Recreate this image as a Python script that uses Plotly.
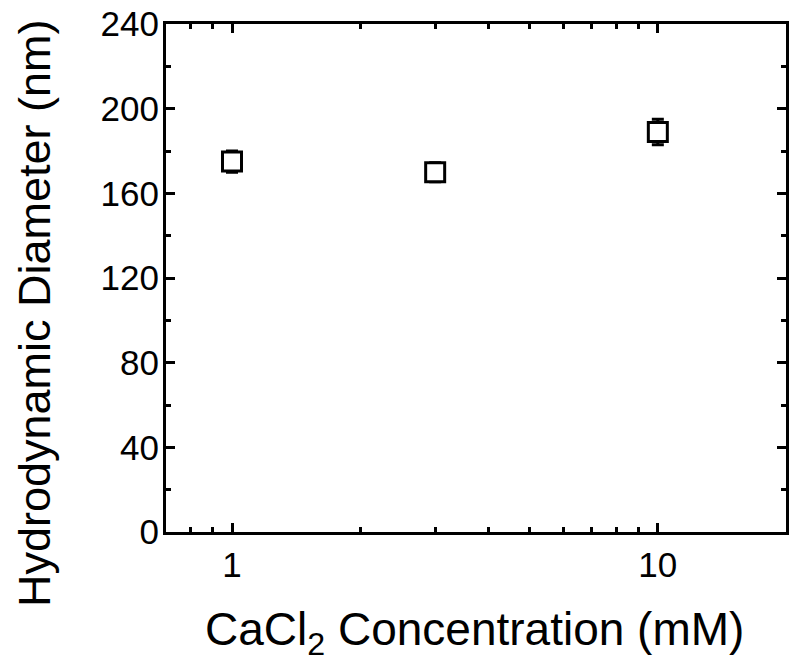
import plotly.graph_objects as go

conc = [1, 3, 10]
diameter = [175, 170, 189]
err = [5, 4.5, 6]

x_title = "CaCl<sub>2</sub> Concentration (mM)"
y_title = "Hydrodynamic Diameter (nm)"
x_tickvals = [1, 10]
x_ticktext = ["1", "10"]
y_tickvals = [0, 40, 80, 120, 160, 200, 240]

fig = go.Figure()
fig.add_trace(go.Scatter(
    x=conc, y=diameter, mode="markers",
    error_y=dict(type="data", array=err, visible=True, color="black",
                 thickness=3, width=6),
    marker=dict(symbol="square", size=19, color="white",
                line=dict(color="black", width=3)),
    showlegend=False,
))

font = "Liberation Sans, Arial, sans-serif"
fig.update_layout(
    width=791, height=663,
    margin=dict(l=166, r=2, t=24, b=131),
    paper_bgcolor="white", plot_bgcolor="white",
    font=dict(family=font, color="black"),
    annotations=[
        dict(text=y_title, xref="paper", yref="paper", x=-0.212, y=0.43,
             xanchor="center", yanchor="middle", textangle=-90,
             showarrow=False, font=dict(size=45, family=font, color="black")),
        dict(text=x_title, xref="paper", yref="paper", x=0.497, y=-0.197,
             xanchor="center", yanchor="middle",
             showarrow=False, font=dict(size=46, family=font, color="black")),
    ],
)
fig.update_xaxes(
    type="log", range=[-0.155, 1.301],
    tickvals=x_tickvals, ticktext=x_ticktext,
    ticks="inside", ticklen=9, tickwidth=3, tickcolor="black",
    minor=dict(ticks="inside", ticklen=5, tickwidth=3, tickcolor="black",
               tickvals=[0.7, 0.8, 0.9, 2, 3, 4, 5, 6, 7, 8, 9, 20]),
    showline=True, linewidth=3, linecolor="black", mirror="ticks",
    showgrid=False, zeroline=False,
    tickfont=dict(size=35),
)
fig.update_yaxes(
    range=[0, 240], tickvals=y_tickvals,
    ticks="inside", ticklen=9, tickwidth=3, tickcolor="black",
    minor=dict(ticks="inside", ticklen=5, tickwidth=3, tickcolor="black", dtick=20),
    showline=True, linewidth=3, linecolor="black", mirror="ticks",
    showgrid=False, zeroline=False,
    tickfont=dict(size=35), ticklabelstandoff=-3,
)

fig.write_html("out.html")
